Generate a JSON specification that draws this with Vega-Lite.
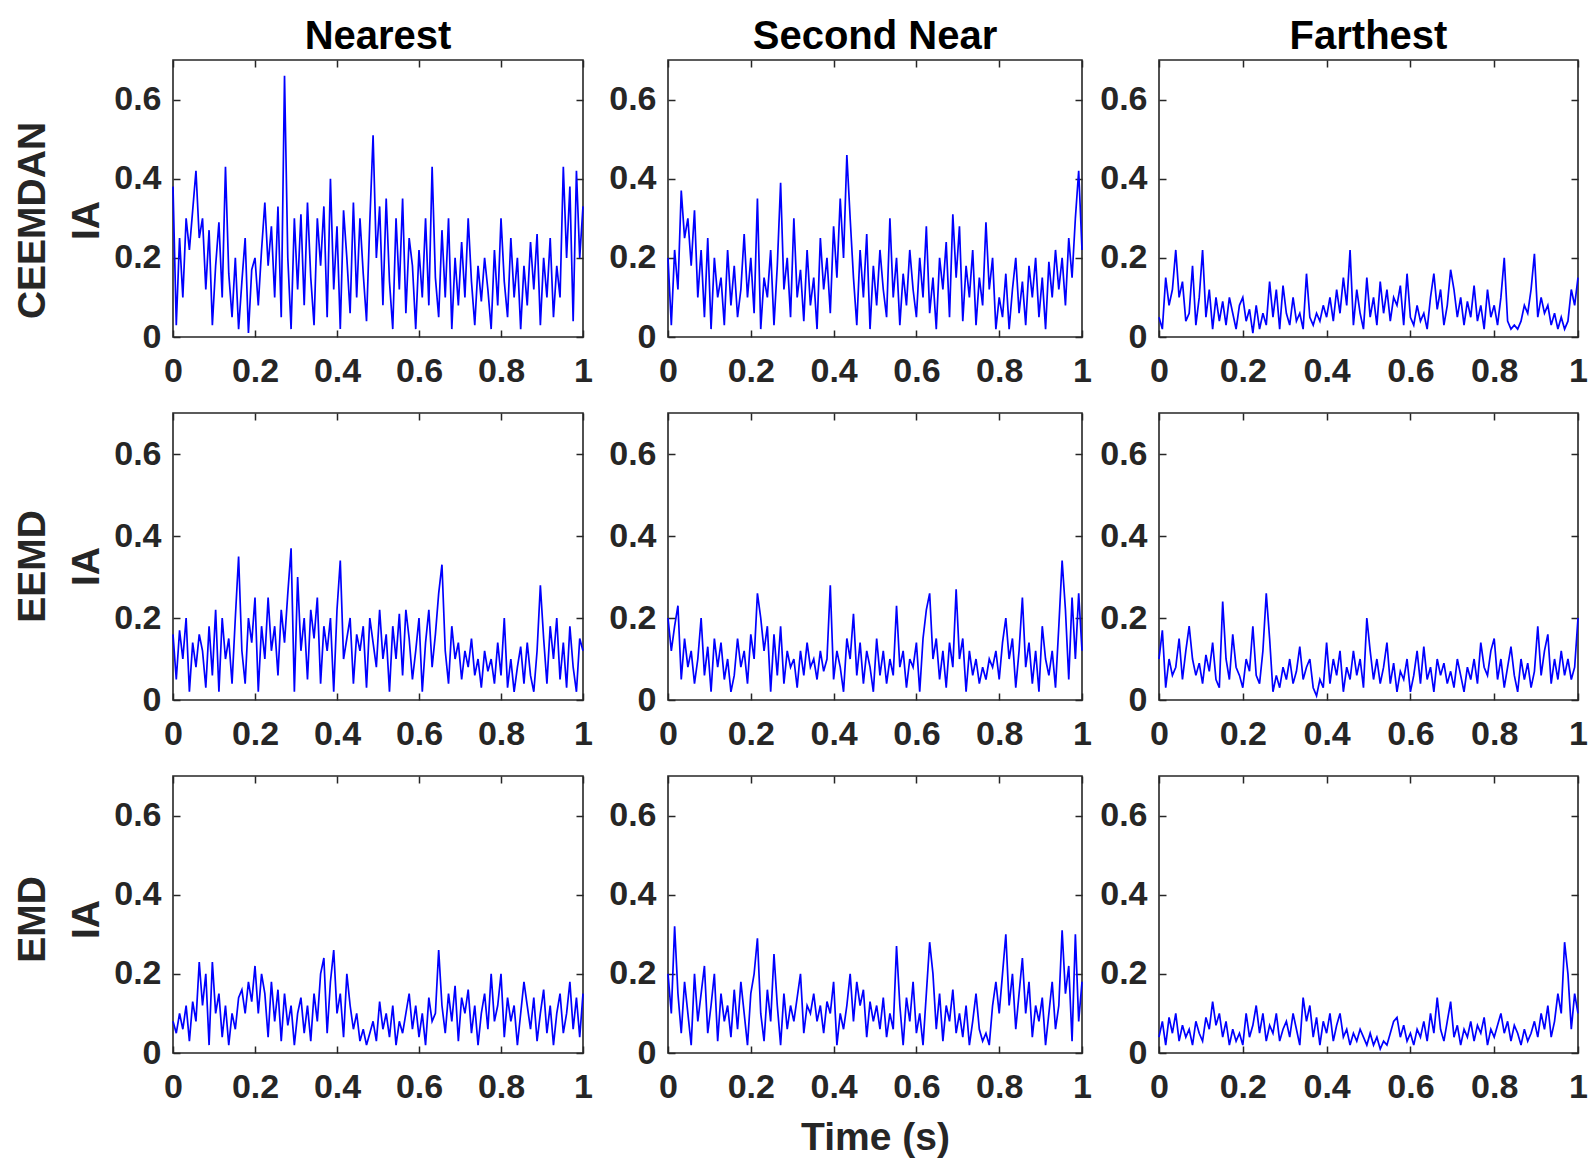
{
  "$schema": "https://vega.github.io/schema/vega-lite/v6.json",
  "description": "Instantaneous amplitude (IA) over time for CEEMDAN, EEMD and EMD at the nearest, second near and farthest sensor.",
  "background": "white",
  "padding": {"left": 12, "top": 16, "right": 0, "bottom": 8},
  "data": {
    "values": [
      {"t":0,"a":0.38,"b":0.2,"c":0.05,"d":0.16,"e":0.2,"f":0.1,"g":0.08,"h":0.2,"i":0.04},
      {"t":0.008,"a":0.03,"b":0.03,"c":0.02,"d":0.05,"e":0.12,"f":0.17,"g":0.05,"h":0.1,"i":0.08},
      {"t":0.016,"a":0.25,"b":0.22,"c":0.15,"d":0.17,"e":0.18,"f":0.03,"g":0.1,"h":0.32,"i":0.02},
      {"t":0.024,"a":0.1,"b":0.12,"c":0.08,"d":0.1,"e":0.23,"f":0.1,"g":0.06,"h":0.15,"i":0.09},
      {"t":0.032,"a":0.3,"b":0.37,"c":0.12,"d":0.2,"e":0.05,"f":0.06,"g":0.12,"h":0.05,"i":0.05},
      {"t":0.04,"a":0.22,"b":0.25,"c":0.22,"d":0.02,"e":0.15,"f":0.08,"g":0.03,"h":0.18,"i":0.1},
      {"t":0.048,"a":0.32,"b":0.3,"c":0.1,"d":0.14,"e":0.08,"f":0.15,"g":0.13,"h":0.1,"i":0.03},
      {"t":0.056,"a":0.42,"b":0.18,"c":0.14,"d":0.08,"e":0.12,"f":0.05,"g":0.08,"h":0.02,"i":0.07},
      {"t":0.064,"a":0.25,"b":0.32,"c":0.04,"d":0.16,"e":0.04,"f":0.12,"g":0.23,"h":0.2,"i":0.04},
      {"t":0.072,"a":0.3,"b":0.1,"c":0.06,"d":0.12,"e":0.1,"f":0.18,"g":0.12,"h":0.08,"i":0.06},
      {"t":0.08,"a":0.12,"b":0.22,"c":0.18,"d":0.03,"e":0.2,"f":0.1,"g":0.2,"h":0.15,"i":0.02},
      {"t":0.088,"a":0.27,"b":0.05,"c":0.03,"d":0.18,"e":0.06,"f":0.06,"g":0.02,"h":0.22,"i":0.08},
      {"t":0.096,"a":0.03,"b":0.25,"c":0.1,"d":0.06,"e":0.13,"f":0.09,"g":0.23,"h":0.05,"i":0.05},
      {"t":0.104,"a":0.18,"b":0.02,"c":0.22,"d":0.22,"e":0.02,"f":0.04,"g":0.1,"h":0.12,"i":0.03},
      {"t":0.112,"a":0.29,"b":0.2,"c":0.05,"d":0.02,"e":0.15,"f":0.11,"g":0.15,"h":0.2,"i":0.09},
      {"t":0.12,"a":0.1,"b":0.1,"c":0.12,"d":0.2,"e":0.08,"f":0.07,"g":0.04,"h":0.03,"i":0.06},
      {"t":0.128,"a":0.43,"b":0.15,"c":0.02,"d":0.1,"e":0.14,"f":0.14,"g":0.12,"h":0.15,"i":0.13},
      {"t":0.136,"a":0.16,"b":0.03,"c":0.1,"d":0.15,"e":0.05,"f":0.05,"g":0.02,"h":0.08,"i":0.07},
      {"t":0.144,"a":0.05,"b":0.22,"c":0.04,"d":0.04,"e":0.1,"f":0.03,"g":0.1,"h":0.12,"i":0.1},
      {"t":0.152,"a":0.2,"b":0.08,"c":0.09,"d":0.2,"e":0.02,"f":0.24,"g":0.06,"h":0.04,"i":0.04},
      {"t":0.16,"a":0.02,"b":0.18,"c":0.03,"d":0.35,"e":0.06,"f":0.1,"g":0.14,"h":0.16,"i":0.08},
      {"t":0.168,"a":0.14,"b":0.05,"c":0.1,"d":0.12,"e":0.15,"f":0.05,"g":0.16,"h":0.06,"i":0.02},
      {"t":0.176,"a":0.25,"b":0.12,"c":0.06,"d":0.04,"e":0.08,"f":0.16,"g":0.1,"h":0.18,"i":0.06},
      {"t":0.184,"a":0.01,"b":0.26,"c":0.02,"d":0.2,"e":0.12,"f":0.08,"g":0.18,"h":0.1,"i":0.03},
      {"t":0.192,"a":0.17,"b":0.1,"c":0.08,"d":0.14,"e":0.04,"f":0.06,"g":0.13,"h":0.02,"i":0.05},
      {"t":0.2,"a":0.2,"b":0.2,"c":0.1,"d":0.25,"e":0.16,"f":0.03,"g":0.22,"h":0.15,"i":0.02},
      {"t":0.208,"a":0.08,"b":0.06,"c":0.04,"d":0.02,"e":0.1,"f":0.1,"g":0.1,"h":0.2,"i":0.1},
      {"t":0.216,"a":0.22,"b":0.35,"c":0.07,"d":0.18,"e":0.26,"f":0.07,"g":0.2,"h":0.29,"i":0.04},
      {"t":0.224,"a":0.34,"b":0.02,"c":0.01,"d":0.1,"e":0.2,"f":0.18,"g":0.15,"h":0.1,"i":0.07},
      {"t":0.232,"a":0.18,"b":0.15,"c":0.08,"d":0.25,"e":0.12,"f":0.06,"g":0.04,"h":0.03,"i":0.12},
      {"t":0.24,"a":0.28,"b":0.1,"c":0.02,"d":0.12,"e":0.18,"f":0.04,"g":0.18,"h":0.16,"i":0.05},
      {"t":0.248,"a":0.1,"b":0.22,"c":0.06,"d":0.18,"e":0.02,"f":0.12,"g":0.08,"h":0.08,"i":0.1},
      {"t":0.256,"a":0.33,"b":0.03,"c":0.03,"d":0.06,"e":0.16,"f":0.26,"g":0.16,"h":0.25,"i":0.03},
      {"t":0.264,"a":0.05,"b":0.18,"c":0.14,"d":0.22,"e":0.06,"f":0.15,"g":0.03,"h":0.12,"i":0.07},
      {"t":0.272,"a":0.66,"b":0.39,"c":0.05,"d":0.14,"e":0.18,"f":0.02,"g":0.15,"h":0.02,"i":0.05},
      {"t":0.28,"a":0.2,"b":0.12,"c":0.12,"d":0.26,"e":0.04,"f":0.06,"g":0.07,"h":0.15,"i":0.1},
      {"t":0.288,"a":0.02,"b":0.2,"c":0.02,"d":0.37,"e":0.12,"f":0.03,"g":0.12,"h":0.06,"i":0.03},
      {"t":0.296,"a":0.3,"b":0.05,"c":0.13,"d":0.02,"e":0.08,"f":0.08,"g":0.02,"h":0.12,"i":0.06},
      {"t":0.304,"a":0.12,"b":0.3,"c":0.06,"d":0.3,"e":0.1,"f":0.05,"g":0.1,"h":0.08,"i":0.08},
      {"t":0.312,"a":0.31,"b":0.1,"c":0.03,"d":0.12,"e":0.03,"f":0.1,"g":0.14,"h":0.14,"i":0.04},
      {"t":0.32,"a":0.08,"b":0.17,"c":0.1,"d":0.2,"e":0.12,"f":0.04,"g":0.05,"h":0.2,"i":0.1},
      {"t":0.328,"a":0.34,"b":0.04,"c":0.04,"d":0.05,"e":0.06,"f":0.07,"g":0.12,"h":0.05,"i":0.06},
      {"t":0.336,"a":0.15,"b":0.22,"c":0.06,"d":0.22,"e":0.14,"f":0.13,"g":0.03,"h":0.12,"i":0.02},
      {"t":0.344,"a":0.03,"b":0.08,"c":0.02,"d":0.15,"e":0.08,"f":0.05,"g":0.15,"h":0.1,"i":0.14},
      {"t":0.352,"a":0.3,"b":0.15,"c":0.16,"d":0.25,"e":0.1,"f":0.08,"g":0.08,"h":0.15,"i":0.08},
      {"t":0.36,"a":0.18,"b":0.02,"c":0.05,"d":0.04,"e":0.05,"f":0.1,"g":0.2,"h":0.08,"i":0.12},
      {"t":0.368,"a":0.33,"b":0.25,"c":0.03,"d":0.18,"e":0.12,"f":0.03,"g":0.24,"h":0.12,"i":0.04},
      {"t":0.376,"a":0.05,"b":0.12,"c":0.06,"d":0.12,"e":0.07,"f":0.01,"g":0.05,"h":0.05,"i":0.09},
      {"t":0.384,"a":0.4,"b":0.2,"c":0.04,"d":0.2,"e":0.1,"f":0.05,"g":0.18,"h":0.13,"i":0.02},
      {"t":0.392,"a":0.12,"b":0.06,"c":0.08,"d":0.02,"e":0.28,"f":0.03,"g":0.26,"h":0.1,"i":0.08},
      {"t":0.4,"a":0.28,"b":0.28,"c":0.05,"d":0.22,"e":0.05,"f":0.14,"g":0.1,"h":0.18,"i":0.05},
      {"t":0.408,"a":0.02,"b":0.15,"c":0.1,"d":0.34,"e":0.12,"f":0.04,"g":0.15,"h":0.02,"i":0.1},
      {"t":0.416,"a":0.32,"b":0.35,"c":0.04,"d":0.1,"e":0.08,"f":0.1,"g":0.04,"h":0.1,"i":0.03},
      {"t":0.424,"a":0.2,"b":0.2,"c":0.12,"d":0.15,"e":0.02,"f":0.06,"g":0.2,"h":0.06,"i":0.07},
      {"t":0.432,"a":0.06,"b":0.46,"c":0.06,"d":0.2,"e":0.15,"f":0.12,"g":0.12,"h":0.12,"i":0.1},
      {"t":0.44,"a":0.34,"b":0.3,"c":0.15,"d":0.04,"e":0.1,"f":0.02,"g":0.06,"h":0.2,"i":0.04},
      {"t":0.448,"a":0.1,"b":0.15,"c":0.08,"d":0.16,"e":0.21,"f":0.08,"g":0.1,"h":0.08,"i":0.06},
      {"t":0.456,"a":0.3,"b":0.03,"c":0.22,"d":0.12,"e":0.06,"f":0.05,"g":0.03,"h":0.18,"i":0.02},
      {"t":0.464,"a":0.16,"b":0.22,"c":0.03,"d":0.18,"e":0.14,"f":0.12,"g":0.06,"h":0.12,"i":0.05},
      {"t":0.472,"a":0.04,"b":0.1,"c":0.12,"d":0.03,"e":0.04,"f":0.06,"g":0.02,"h":0.16,"i":0.03},
      {"t":0.48,"a":0.29,"b":0.26,"c":0.06,"d":0.2,"e":0.12,"f":0.1,"g":0.05,"h":0.04,"i":0.06},
      {"t":0.488,"a":0.51,"b":0.02,"c":0.02,"d":0.14,"e":0.08,"f":0.03,"g":0.08,"h":0.13,"i":0.04},
      {"t":0.496,"a":0.2,"b":0.18,"c":0.15,"d":0.08,"e":0.02,"f":0.2,"g":0.03,"h":0.08,"i":0.02},
      {"t":0.504,"a":0.33,"b":0.08,"c":0.05,"d":0.22,"e":0.15,"f":0.12,"g":0.13,"h":0.12,"i":0.05},
      {"t":0.512,"a":0.08,"b":0.22,"c":0.1,"d":0.1,"e":0.06,"f":0.05,"g":0.06,"h":0.06,"i":0.02},
      {"t":0.52,"a":0.35,"b":0.12,"c":0.03,"d":0.16,"e":0.12,"f":0.1,"g":0.1,"h":0.14,"i":0.04},
      {"t":0.528,"a":0.14,"b":0.05,"c":0.14,"d":0.02,"e":0.04,"f":0.04,"g":0.04,"h":0.04,"i":0.01},
      {"t":0.536,"a":0.02,"b":0.3,"c":0.06,"d":0.18,"e":0.1,"f":0.08,"g":0.12,"h":0.1,"i":0.03},
      {"t":0.544,"a":0.3,"b":0.1,"c":0.12,"d":0.1,"e":0.06,"f":0.14,"g":0.02,"h":0.06,"i":0.02},
      {"t":0.552,"a":0.12,"b":0.2,"c":0.04,"d":0.21,"e":0.23,"f":0.04,"g":0.08,"h":0.27,"i":0.05},
      {"t":0.56,"a":0.35,"b":0.03,"c":0.1,"d":0.06,"e":0.08,"f":0.09,"g":0.05,"h":0.12,"i":0.08},
      {"t":0.568,"a":0.06,"b":0.16,"c":0.08,"d":0.22,"e":0.12,"f":0.02,"g":0.1,"h":0.02,"i":0.09},
      {"t":0.576,"a":0.25,"b":0.08,"c":0.13,"d":0.15,"e":0.03,"f":0.07,"g":0.15,"h":0.14,"i":0.04},
      {"t":0.584,"a":0.18,"b":0.22,"c":0.03,"d":0.05,"e":0.1,"f":0.05,"g":0.06,"h":0.08,"i":0.07},
      {"t":0.592,"a":0.02,"b":0.12,"c":0.16,"d":0.12,"e":0.08,"f":0.1,"g":0.12,"h":0.18,"i":0.03},
      {"t":0.6,"a":0.22,"b":0.05,"c":0.05,"d":0.2,"e":0.14,"f":0.02,"g":0.04,"h":0.05,"i":0.05},
      {"t":0.608,"a":0.1,"b":0.2,"c":0.03,"d":0.02,"e":0.02,"f":0.06,"g":0.1,"h":0.1,"i":0.02},
      {"t":0.616,"a":0.3,"b":0.1,"c":0.08,"d":0.14,"e":0.15,"f":0.12,"g":0.02,"h":0.02,"i":0.06},
      {"t":0.624,"a":0.08,"b":0.28,"c":0.04,"d":0.22,"e":0.22,"f":0.04,"g":0.14,"h":0.15,"i":0.04},
      {"t":0.632,"a":0.43,"b":0.06,"c":0.06,"d":0.08,"e":0.26,"f":0.13,"g":0.08,"h":0.28,"i":0.08},
      {"t":0.64,"a":0.15,"b":0.15,"c":0.02,"d":0.16,"e":0.1,"f":0.05,"g":0.1,"h":0.2,"i":0.03},
      {"t":0.648,"a":0.05,"b":0.02,"c":0.1,"d":0.26,"e":0.15,"f":0.08,"g":0.26,"h":0.06,"i":0.1},
      {"t":0.656,"a":0.27,"b":0.2,"c":0.16,"d":0.33,"e":0.05,"f":0.02,"g":0.12,"h":0.15,"i":0.05},
      {"t":0.664,"a":0.1,"b":0.12,"c":0.07,"d":0.12,"e":0.12,"f":0.1,"g":0.05,"h":0.03,"i":0.14},
      {"t":0.672,"a":0.3,"b":0.24,"c":0.12,"d":0.04,"e":0.03,"f":0.06,"g":0.15,"h":0.12,"i":0.06},
      {"t":0.68,"a":0.02,"b":0.05,"c":0.03,"d":0.18,"e":0.14,"f":0.09,"g":0.08,"h":0.08,"i":0.03},
      {"t":0.688,"a":0.2,"b":0.31,"c":0.08,"d":0.1,"e":0.08,"f":0.04,"g":0.17,"h":0.16,"i":0.08},
      {"t":0.696,"a":0.08,"b":0.15,"c":0.17,"d":0.14,"e":0.27,"f":0.07,"g":0.03,"h":0.05,"i":0.13},
      {"t":0.704,"a":0.24,"b":0.28,"c":0.12,"d":0.05,"e":0.1,"f":0.03,"g":0.14,"h":0.1,"i":0.04},
      {"t":0.712,"a":0.1,"b":0.04,"c":0.05,"d":0.12,"e":0.15,"f":0.1,"g":0.1,"h":0.04,"i":0.07},
      {"t":0.72,"a":0.3,"b":0.18,"c":0.1,"d":0.08,"e":0.02,"f":0.06,"g":0.16,"h":0.12,"i":0.02},
      {"t":0.728,"a":0.14,"b":0.1,"c":0.03,"d":0.15,"e":0.12,"f":0.02,"g":0.05,"h":0.02,"i":0.06},
      {"t":0.736,"a":0.03,"b":0.22,"c":0.09,"d":0.06,"e":0.06,"f":0.08,"g":0.12,"h":0.08,"i":0.04},
      {"t":0.744,"a":0.18,"b":0.03,"c":0.05,"d":0.1,"e":0.1,"f":0.05,"g":0.02,"h":0.15,"i":0.08},
      {"t":0.752,"a":0.09,"b":0.15,"c":0.13,"d":0.03,"e":0.04,"f":0.1,"g":0.1,"h":0.06,"i":0.03},
      {"t":0.76,"a":0.2,"b":0.08,"c":0.04,"d":0.12,"e":0.08,"f":0.04,"g":0.15,"h":0.03,"i":0.07},
      {"t":0.768,"a":0.12,"b":0.29,"c":0.08,"d":0.07,"e":0.05,"f":0.14,"g":0.06,"h":0.05,"i":0.05},
      {"t":0.776,"a":0.02,"b":0.12,"c":0.02,"d":0.1,"e":0.1,"f":0.08,"g":0.2,"h":0.02,"i":0.09},
      {"t":0.784,"a":0.22,"b":0.2,"c":0.12,"d":0.04,"e":0.08,"f":0.06,"g":0.08,"h":0.12,"i":0.02},
      {"t":0.792,"a":0.08,"b":0.02,"c":0.05,"d":0.14,"e":0.12,"f":0.12,"g":0.12,"h":0.18,"i":0.06},
      {"t":0.8,"a":0.3,"b":0.1,"c":0.08,"d":0.06,"e":0.05,"f":0.15,"g":0.2,"h":0.1,"i":0.04},
      {"t":0.808,"a":0.14,"b":0.05,"c":0.03,"d":0.2,"e":0.14,"f":0.05,"g":0.04,"h":0.2,"i":0.07},
      {"t":0.816,"a":0.05,"b":0.16,"c":0.1,"d":0.03,"e":0.2,"f":0.1,"g":0.14,"h":0.3,"i":0.1},
      {"t":0.824,"a":0.25,"b":0.02,"c":0.2,"d":0.1,"e":0.1,"f":0.03,"g":0.08,"h":0.12,"i":0.05},
      {"t":0.832,"a":0.1,"b":0.12,"c":0.04,"d":0.02,"e":0.15,"f":0.08,"g":0.12,"h":0.2,"i":0.08},
      {"t":0.84,"a":0.2,"b":0.2,"c":0.02,"d":0.08,"e":0.03,"f":0.13,"g":0.02,"h":0.06,"i":0.03},
      {"t":0.848,"a":0.02,"b":0.06,"c":0.03,"d":0.13,"e":0.12,"f":0.06,"g":0.1,"h":0.15,"i":0.07},
      {"t":0.856,"a":0.18,"b":0.14,"c":0.02,"d":0.04,"e":0.25,"f":0.02,"g":0.18,"h":0.24,"i":0.05},
      {"t":0.864,"a":0.08,"b":0.03,"c":0.04,"d":0.14,"e":0.08,"f":0.1,"g":0.12,"h":0.1,"i":0.02},
      {"t":0.872,"a":0.24,"b":0.18,"c":0.08,"d":0.06,"e":0.14,"f":0.05,"g":0.06,"h":0.18,"i":0.06},
      {"t":0.88,"a":0.12,"b":0.1,"c":0.06,"d":0.02,"e":0.04,"f":0.09,"g":0.14,"h":0.04,"i":0.03},
      {"t":0.888,"a":0.26,"b":0.2,"c":0.12,"d":0.12,"e":0.12,"f":0.03,"g":0.03,"h":0.12,"i":0.05},
      {"t":0.896,"a":0.03,"b":0.05,"c":0.21,"d":0.28,"e":0.02,"f":0.07,"g":0.1,"h":0.08,"i":0.08},
      {"t":0.904,"a":0.2,"b":0.15,"c":0.05,"d":0.15,"e":0.18,"f":0.18,"g":0.16,"h":0.14,"i":0.04},
      {"t":0.912,"a":0.1,"b":0.02,"c":0.1,"d":0.04,"e":0.1,"f":0.06,"g":0.05,"h":0.02,"i":0.1},
      {"t":0.92,"a":0.25,"b":0.19,"c":0.06,"d":0.18,"e":0.06,"f":0.12,"g":0.12,"h":0.1,"i":0.06},
      {"t":0.928,"a":0.05,"b":0.1,"c":0.08,"d":0.1,"e":0.12,"f":0.16,"g":0.02,"h":0.18,"i":0.12},
      {"t":0.936,"a":0.18,"b":0.22,"c":0.03,"d":0.2,"e":0.03,"f":0.04,"g":0.1,"h":0.06,"i":0.04},
      {"t":0.944,"a":0.1,"b":0.12,"c":0.06,"d":0.05,"e":0.18,"f":0.1,"g":0.15,"h":0.12,"i":0.08},
      {"t":0.952,"a":0.43,"b":0.2,"c":0.02,"d":0.14,"e":0.34,"f":0.05,"g":0.05,"h":0.31,"i":0.15},
      {"t":0.96,"a":0.2,"b":0.08,"c":0.05,"d":0.03,"e":0.22,"f":0.12,"g":0.1,"h":0.15,"i":0.1},
      {"t":0.968,"a":0.38,"b":0.25,"c":0.02,"d":0.18,"e":0.05,"f":0.06,"g":0.18,"h":0.22,"i":0.28},
      {"t":0.976,"a":0.04,"b":0.15,"c":0.04,"d":0.08,"e":0.25,"f":0.1,"g":0.06,"h":0.03,"i":0.2},
      {"t":0.984,"a":0.42,"b":0.3,"c":0.12,"d":0.02,"e":0.1,"f":0.05,"g":0.14,"h":0.3,"i":0.06},
      {"t":0.992,"a":0.2,"b":0.42,"c":0.08,"d":0.15,"e":0.26,"f":0.08,"g":0.04,"h":0.08,"i":0.15},
      {"t":1,"a":0.33,"b":0.22,"c":0.15,"d":0.12,"e":0.12,"f":0.2,"g":0.15,"h":0.18,"i":0.1}
    ]
  },
  "spacing": 22,
  "vconcat": [
    {
      "spacing": 13,
      "hconcat": [
        {
          "width": 410, "height": 277, "title": "Nearest",
          "layer": [
            {"mark": "line", "encoding": {
              "x": {"field": "t", "type": "quantitative", "scale": {"domain": [0, 1]}, "title": null, "axis": {"values": [0, 0.2, 0.4, 0.6, 0.8, 1]}},
              "y": {"field": "a", "type": "quantitative", "scale": {"domain": [0, 0.7]}, "title": ["CEEMDAN", "IA"], "axis": {"values": [0, 0.2, 0.4, 0.6], "titleY": 160}}}},
            {"mark": {"type": "line", "opacity": 0}, "encoding": {
              "x": {"field": "t", "type": "quantitative", "scale": {"domain": [0, 1]}, "axis": {"orient": "top", "labels": false, "title": null, "values": [0, 0.2, 0.4, 0.6, 0.8, 1], "minExtent": 0, "maxExtent": 0}},
              "y": {"field": "a", "type": "quantitative", "scale": {"domain": [0, 0.7]}, "axis": {"orient": "right", "labels": false, "title": null, "values": [0, 0.2, 0.4, 0.6], "minExtent": 0, "maxExtent": 0}}}}
          ],
          "resolve": {"axis": {"x": "independent", "y": "independent"}}
        },
        {
          "spacing": 5,
          "hconcat": [
            {
              "width": 414, "height": 277, "title": "Second Near",
              "layer": [
                {"mark": "line", "encoding": {
                  "x": {"field": "t", "type": "quantitative", "scale": {"domain": [0, 1]}, "title": null, "axis": {"values": [0, 0.2, 0.4, 0.6, 0.8, 1]}},
                  "y": {"field": "b", "type": "quantitative", "scale": {"domain": [0, 0.7]}, "title": null, "axis": {"values": [0, 0.2, 0.4, 0.6]}}}},
                {"mark": {"type": "line", "opacity": 0}, "encoding": {
                  "x": {"field": "t", "type": "quantitative", "scale": {"domain": [0, 1]}, "axis": {"orient": "top", "labels": false, "title": null, "values": [0, 0.2, 0.4, 0.6, 0.8, 1], "minExtent": 0, "maxExtent": 0}},
                  "y": {"field": "b", "type": "quantitative", "scale": {"domain": [0, 0.7]}, "axis": {"orient": "right", "labels": false, "title": null, "values": [0, 0.2, 0.4, 0.6], "minExtent": 0, "maxExtent": 0}}}}
              ],
              "resolve": {"axis": {"x": "independent", "y": "independent"}}
            },
            {
              "width": 419, "height": 277, "title": "Farthest",
              "layer": [
                {"mark": "line", "encoding": {
                  "x": {"field": "t", "type": "quantitative", "scale": {"domain": [0, 1]}, "title": null, "axis": {"values": [0, 0.2, 0.4, 0.6, 0.8, 1]}},
                  "y": {"field": "c", "type": "quantitative", "scale": {"domain": [0, 0.7]}, "title": null, "axis": {"values": [0, 0.2, 0.4, 0.6]}}}},
                {"mark": {"type": "line", "opacity": 0}, "encoding": {
                  "x": {"field": "t", "type": "quantitative", "scale": {"domain": [0, 1]}, "axis": {"orient": "top", "labels": false, "title": null, "values": [0, 0.2, 0.4, 0.6, 0.8, 1], "minExtent": 0, "maxExtent": 0}},
                  "y": {"field": "c", "type": "quantitative", "scale": {"domain": [0, 0.7]}, "axis": {"orient": "right", "labels": false, "title": null, "values": [0, 0.2, 0.4, 0.6], "minExtent": 0, "maxExtent": 0}}}}
              ],
              "resolve": {"axis": {"x": "independent", "y": "independent"}}
            }
          ]
        }
      ]
    },
    {
      "spacing": 13,
      "hconcat": [
        {
          "width": 410, "height": 287,
          "layer": [
            {"mark": "line", "encoding": {
              "x": {"field": "t", "type": "quantitative", "scale": {"domain": [0, 1]}, "title": null, "axis": {"values": [0, 0.2, 0.4, 0.6, 0.8, 1]}},
              "y": {"field": "d", "type": "quantitative", "scale": {"domain": [0, 0.7]}, "title": ["EEMD", "IA"], "axis": {"values": [0, 0.2, 0.4, 0.6], "titleY": 153}}}},
            {"mark": {"type": "line", "opacity": 0}, "encoding": {
              "x": {"field": "t", "type": "quantitative", "scale": {"domain": [0, 1]}, "axis": {"orient": "top", "labels": false, "title": null, "values": [0, 0.2, 0.4, 0.6, 0.8, 1], "minExtent": 0, "maxExtent": 0}},
              "y": {"field": "d", "type": "quantitative", "scale": {"domain": [0, 0.7]}, "axis": {"orient": "right", "labels": false, "title": null, "values": [0, 0.2, 0.4, 0.6], "minExtent": 0, "maxExtent": 0}}}}
          ],
          "resolve": {"axis": {"x": "independent", "y": "independent"}}
        },
        {
          "spacing": 5,
          "hconcat": [
            {
              "width": 414, "height": 287,
              "layer": [
                {"mark": "line", "encoding": {
                  "x": {"field": "t", "type": "quantitative", "scale": {"domain": [0, 1]}, "title": null, "axis": {"values": [0, 0.2, 0.4, 0.6, 0.8, 1]}},
                  "y": {"field": "e", "type": "quantitative", "scale": {"domain": [0, 0.7]}, "title": null, "axis": {"values": [0, 0.2, 0.4, 0.6]}}}},
                {"mark": {"type": "line", "opacity": 0}, "encoding": {
                  "x": {"field": "t", "type": "quantitative", "scale": {"domain": [0, 1]}, "axis": {"orient": "top", "labels": false, "title": null, "values": [0, 0.2, 0.4, 0.6, 0.8, 1], "minExtent": 0, "maxExtent": 0}},
                  "y": {"field": "e", "type": "quantitative", "scale": {"domain": [0, 0.7]}, "axis": {"orient": "right", "labels": false, "title": null, "values": [0, 0.2, 0.4, 0.6], "minExtent": 0, "maxExtent": 0}}}}
              ],
              "resolve": {"axis": {"x": "independent", "y": "independent"}}
            },
            {
              "width": 419, "height": 287,
              "layer": [
                {"mark": "line", "encoding": {
                  "x": {"field": "t", "type": "quantitative", "scale": {"domain": [0, 1]}, "title": null, "axis": {"values": [0, 0.2, 0.4, 0.6, 0.8, 1]}},
                  "y": {"field": "f", "type": "quantitative", "scale": {"domain": [0, 0.7]}, "title": null, "axis": {"values": [0, 0.2, 0.4, 0.6]}}}},
                {"mark": {"type": "line", "opacity": 0}, "encoding": {
                  "x": {"field": "t", "type": "quantitative", "scale": {"domain": [0, 1]}, "axis": {"orient": "top", "labels": false, "title": null, "values": [0, 0.2, 0.4, 0.6, 0.8, 1], "minExtent": 0, "maxExtent": 0}},
                  "y": {"field": "f", "type": "quantitative", "scale": {"domain": [0, 0.7]}, "axis": {"orient": "right", "labels": false, "title": null, "values": [0, 0.2, 0.4, 0.6], "minExtent": 0, "maxExtent": 0}}}}
              ],
              "resolve": {"axis": {"x": "independent", "y": "independent"}}
            }
          ]
        }
      ]
    },
    {
      "spacing": 13,
      "hconcat": [
        {
          "width": 410, "height": 277,
          "layer": [
            {"mark": "line", "encoding": {
              "x": {"field": "t", "type": "quantitative", "scale": {"domain": [0, 1]}, "title": null, "axis": {"values": [0, 0.2, 0.4, 0.6, 0.8, 1]}},
              "y": {"field": "g", "type": "quantitative", "scale": {"domain": [0, 0.7]}, "title": ["EMD", "IA"], "axis": {"values": [0, 0.2, 0.4, 0.6], "titleY": 143}}}},
            {"mark": {"type": "line", "opacity": 0}, "encoding": {
              "x": {"field": "t", "type": "quantitative", "scale": {"domain": [0, 1]}, "axis": {"orient": "top", "labels": false, "title": null, "values": [0, 0.2, 0.4, 0.6, 0.8, 1], "minExtent": 0, "maxExtent": 0}},
              "y": {"field": "g", "type": "quantitative", "scale": {"domain": [0, 0.7]}, "axis": {"orient": "right", "labels": false, "title": null, "values": [0, 0.2, 0.4, 0.6], "minExtent": 0, "maxExtent": 0}}}}
          ],
          "resolve": {"axis": {"x": "independent", "y": "independent"}}
        },
        {
          "spacing": 5,
          "hconcat": [
            {
              "width": 414, "height": 277,
              "layer": [
                {"mark": "line", "encoding": {
                  "x": {"field": "t", "type": "quantitative", "scale": {"domain": [0, 1]}, "title": "Time (s)", "axis": {"values": [0, 0.2, 0.4, 0.6, 0.8, 1]}},
                  "y": {"field": "h", "type": "quantitative", "scale": {"domain": [0, 0.7]}, "title": null, "axis": {"values": [0, 0.2, 0.4, 0.6]}}}},
                {"mark": {"type": "line", "opacity": 0}, "encoding": {
                  "x": {"field": "t", "type": "quantitative", "scale": {"domain": [0, 1]}, "axis": {"orient": "top", "labels": false, "title": null, "values": [0, 0.2, 0.4, 0.6, 0.8, 1], "minExtent": 0, "maxExtent": 0}},
                  "y": {"field": "h", "type": "quantitative", "scale": {"domain": [0, 0.7]}, "axis": {"orient": "right", "labels": false, "title": null, "values": [0, 0.2, 0.4, 0.6], "minExtent": 0, "maxExtent": 0}}}}
              ],
              "resolve": {"axis": {"x": "independent", "y": "independent"}}
            },
            {
              "width": 419, "height": 277,
              "layer": [
                {"mark": "line", "encoding": {
                  "x": {"field": "t", "type": "quantitative", "scale": {"domain": [0, 1]}, "title": null, "axis": {"values": [0, 0.2, 0.4, 0.6, 0.8, 1]}},
                  "y": {"field": "i", "type": "quantitative", "scale": {"domain": [0, 0.7]}, "title": null, "axis": {"values": [0, 0.2, 0.4, 0.6]}}}},
                {"mark": {"type": "line", "opacity": 0}, "encoding": {
                  "x": {"field": "t", "type": "quantitative", "scale": {"domain": [0, 1]}, "axis": {"orient": "top", "labels": false, "title": null, "values": [0, 0.2, 0.4, 0.6, 0.8, 1], "minExtent": 0, "maxExtent": 0}},
                  "y": {"field": "i", "type": "quantitative", "scale": {"domain": [0, 0.7]}, "axis": {"orient": "right", "labels": false, "title": null, "values": [0, 0.2, 0.4, 0.6], "minExtent": 0, "maxExtent": 0}}}}
              ],
              "resolve": {"axis": {"x": "independent", "y": "independent"}}
            }
          ]
        }
      ]
    }
  ],
  "config": {
    "font": "Liberation Sans",
    "view": {"stroke": "#262626", "strokeWidth": 1.6},
    "line": {"color": "#0000ff", "strokeWidth": 1.7},
    "axis": {
      "grid": false,
      "domain": false,
      "format": "~g",
      "labelFont": "Liberation Sans",
      "labelFontSize": 34,
      "labelFontWeight": "bold",
      "labelColor": "#262626",
      "labelFlush": false,
      "tickColor": "#262626",
      "tickSize": -7,
      "tickWidth": 1.5,
      "titleFont": "Liberation Sans",
      "titleFontSize": 39,
      "titleFontWeight": "bold",
      "titleColor": "#262626"
    },
    "axisX": {"labelPadding": 24, "titlePadding": 14},
    "axisY": {"labelPadding": 19, "titlePadding": 7, "titleLineHeight": 54},
    "title": {"font": "Liberation Sans", "fontSize": 40, "fontWeight": "bold", "color": "#000000", "offset": 2, "frame": "group"}
  }
}
